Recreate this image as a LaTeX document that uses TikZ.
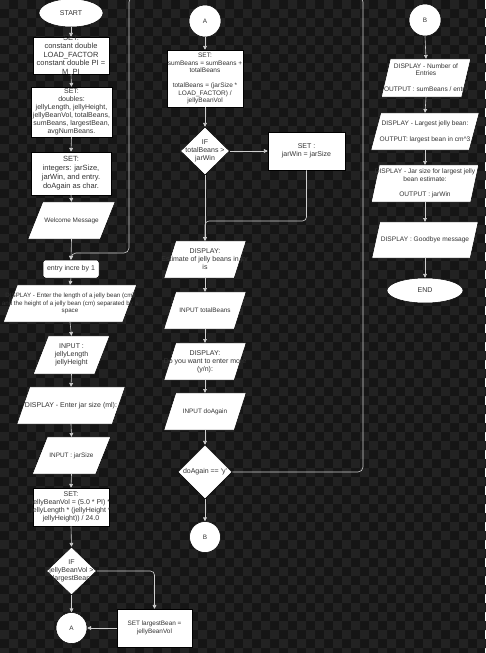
\documentclass[tikz,border=0pt]{standalone}
\usepackage{fontspec}
\setmainfont{Liberation Sans}
\usetikzlibrary{arrows.meta,shapes.geometric}

\definecolor{bgdark}{HTML}{151515}
\definecolor{bglight}{HTML}{222222}
\definecolor{linegray}{HTML}{CFCFCF}
\definecolor{txtgray}{HTML}{333333}

\pgfdeclarelayer{backdrop}
\pgfdeclarelayer{shapes}
\pgfsetlayers{backdrop,shapes,main}

\tikzset{
  txt/.style={font=\fontsize{7}{8}\selectfont, text=txtgray, align=center, inner sep=0pt},
  small/.style={font=\fontsize{6.4}{7.5}\selectfont},
  compact/.style={font=\fontsize{6.6}{7.8}\selectfont},
  large/.style={font=\fontsize{7.5}{8.4}\selectfont},
  outline/.style={draw=black, fill=white, line width=0.5pt},
  procbox/.style={outline, rectangle, inner sep=0pt},
  roundbox/.style={procbox, rounded corners=2.5pt},
  decision/.style={outline, diamond, inner sep=0pt},
  connector/.style={outline, circle, inner sep=0pt},
  terminal/.style={outline, ellipse, inner sep=0pt},
  iobody/.style={rectangle, draw=none, fill=none, inner sep=0pt},
  conn/.style={draw=linegray, line width=0.6pt, -{Triangle[length=3.8pt,width=3.8pt]}},
  loopline/.style={conn, rounded corners=5pt},
}

% parallelogram (input/output): name, cx, cy, mid width, height, skew, text style, text
\newcommand\ioshape[8]{%
  \node[iobody, minimum width=#4, minimum height=#5,
        label={[txt,#7]center:{#8}}] (#1) at (#2,#3) {};
  \begin{pgfonlayer}{shapes}
    \filldraw[outline] ([xshift=#6/2]#1.north west) -- ([xshift=#6/2]#1.north east)
      -- ([xshift=-#6/2]#1.south east) -- ([xshift=-#6/2]#1.south west) -- cycle;
  \end{pgfonlayer}
}

\begin{document}
\begin{tikzpicture}[x=1pt,y=-1pt]
\useasboundingbox (0,0) rectangle (485,653);
\clip (0,0) rectangle (485,653);

% checkered backdrop
\begin{pgfonlayer}{backdrop}
  \fill[bgdark] (0,0) rectangle (485,653);
  \foreach \j in {0,...,72}{
    \pgfmathtruncatemacro\off{mod(\j,2)*9}
    \fill[bglight] \foreach \k in {0,...,27}{ (\off+18*\k, 9*\j) rectangle ++(9,9) };
  }
\end{pgfonlayer}

% ---------- left column ----------
\node[terminal, minimum width=64, minimum height=28,
      label={[txt]center:{START}}] (start) at (71,13) {};
\node[procbox, minimum width=76, minimum height=37,
      label={[txt,large]center:{SET:\\constant double\\LOAD\_FACTOR\\constant double PI =\\M\_PI}}] (set1) at (71,55.5) {};
\node[procbox, minimum width=81, minimum height=50,
      label={[txt]center:{SET:\\doubles:\\jellyLength, jellyHeight,\\jellyBeanVol, totalBeans,\\sumBeans, largestBean,\\avgNumBeans.}}] (set2) at (71.5,112) {};
\node[procbox, minimum width=80, minimum height=43,
      label={[txt,font=\fontsize{7.5}{9}\selectfont]center:{SET:\\integers: jarSize,\\jarWin, and entry.\\doAgain as char.}}] (set3) at (71,173.5) {};
\ioshape{welcome}{71.5}{220.5}{72}{37}{15}{small}{Welcome Message}
\node[roundbox, minimum width=56, minimum height=18,
      label={[txt]center:{entry incre by 1}}] (entry) at (71,269) {};
\ioshape{disp1}{70}{303.5}{119}{37}{14}{font=\fontsize{6.2}{7.4}\selectfont}{DISPLAY - Enter the length of a jelly bean (cm)\\and the height of a jelly bean (cm) separated by a\\space}
\ioshape{in1}{71.5}{355}{61}{38}{15}{}{INPUT :\\jellyLength\\jellyHeight}
\ioshape{disp2}{71}{405.5}{95}{37}{13}{}{DISPLAY - Enter jar size (ml):}
\ioshape{in2}{71.5}{455.5}{63}{37}{15}{small}{INPUT : jarSize}
\node[procbox, minimum width=76, minimum height=38,
      label={[txt]center:{SET:\\jellyBeanVol = (5.0 * PI) *\\jellyLength * (jellyHeight *\\jellyHeight)) / 24.0}}] (set4) at (71,507) {};
\node[decision, minimum width=50, minimum height=48,
      label={[txt]center:{IF\\jellyBeanVol >\\largestBean}}] (if1) at (71.5,571) {};
\node[connector, minimum size=31,
      label={[txt,small]center:{A}}] (aleft) at (71.5,628) {};
\node[procbox, minimum width=75, minimum height=38,
      label={[txt,small]center:{SET largestBean =\\jellyBeanVol}}] (slb) at (154.5,628) {};

% ---------- middle column ----------
\node[connector, minimum size=32,
      label={[txt,small]center:{A}}] (amid) at (205,21) {};
\node[procbox, minimum width=76, minimum height=57,
      label={[txt,font=\fontsize{6.5}{7.5}\selectfont]center:{SET:\\sumBeans = sumBeans +\\totalBeans\\[7.5pt]totalBeans = (jarSize *\\LOAD\_FACTOR) /\\jellyBeanVol}}] (set5) at (205,78.5) {};
\node[decision, minimum width=49, minimum height=48,
      label={[txt]center:{IF\\totalBeans >\\jarWin}}] (if2) at (205,151) {};
\node[procbox, minimum width=77, minimum height=38,
      label={[txt]center:{SET :\\jarWin = jarSize}}] (sjw) at (306.5,151) {};
\ioshape{disp3}{205}{259.5}{70}{37}{12}{}{DISPLAY:\\Estimate of jelly beans in jar\\is}
\ioshape{in3}{205}{310.5}{70}{37}{12}{small}{INPUT totalBeans}
\ioshape{disp4}{205}{361.5}{70}{37}{12}{}{DISPLAY:\\Do you want to enter more\\(y/n):}
\ioshape{in4}{205}{411.5}{70}{37}{12}{small}{INPUT doAgain}
\node[decision, minimum width=54, minimum height=54,
      label={[txt]center:{doAgain == \textquotesingle y\textquotesingle}}] (doagain) at (205,472) {};
\node[connector, minimum size=31,
      label={[txt,small]center:{B}}] (bmid) at (205,537) {};

% ---------- right column ----------
\node[connector, minimum size=32,
      label={[txt,small]center:{B}}] (bright) at (425,20) {};
\ioshape{d5}{426}{78}{80}{38}{9}{compact}{DISPLAY - Number of\\Entries\\[7.8pt]OUTPUT : sumBeans / entry}
\ioshape{d6}{425}{131.5}{98}{37}{10}{compact}{DISPLAY - Largest jelly bean:\\[7.8pt]OUTPUT: largest bean in cm\textasciicircum 3}
\ioshape{d7}{425}{183.5}{99}{37}{8}{compact}{DISPLAY - Jar size for largest jelly\\bean estimate:\\[7.8pt]OUTPUT : jarWin}
\ioshape{d8}{425}{240}{98}{36}{8}{compact}{DISPLAY : Goodbye message}
\node[terminal, minimum width=76, minimum height=25,
      label={[txt]center:{END}}] (end) at (425,290.5) {};

% ---------- connectors ----------
\coordinate (loopTR) at (363,-3);
\coordinate (loopL) at (129,253);
\coordinate (join2) at (205,221);

\draw[conn] (start.south) -- (set1.north);
\draw[conn] (set1.south) -- (set2.north);
\draw[conn] (set2.south) -- (set3.north);
\draw[conn] (set3.south) -- (welcome.north);
\draw[conn] (welcome.south) -- (entry.north);
\draw[conn] (entry.south) -- (disp1.north);
\draw[conn] (disp1.south) -- (in1.north);
\draw[conn] (in1.south) -- (disp2.north);
\draw[conn] (disp2.south) -- (in2.north);
\draw[conn] (in2.south) -- (set4.north);
\draw[conn] (set4.south) -- (if1.north);
\draw[conn] (if1.south) -- (aleft.north);
\draw[conn, rounded corners=4pt] (if1.east) -| (slb.north);
\draw[conn] (slb.west) -- (aleft.east);

\draw[conn] (amid.south) -- (set5.north);
\draw[conn] (set5.south) -- (if2.north);
\draw[conn] (if2.east) -- (sjw.west);
\draw[conn] (if2.south) -- (disp3.north);
\draw[conn, rounded corners=4pt] (sjw.south) |- (join2) -- (disp3.north);
\draw[conn] (disp3.south) -- (in3.north);
\draw[conn] (in3.south) -- (disp4.north);
\draw[conn] (disp4.south) -- (in4.north);
\draw[conn] (in4.south) -- (doagain.north);
\draw[conn] (doagain.south) -- (bmid.north);
\draw[loopline] (doagain.east) -| (loopTR) -| (loopL) -| (entry.north);

\draw[conn] (bright.south) -- (d5.north);
\draw[conn] (d5.south) -- (d6.north);
\draw[conn] (d6.south) -- (d7.north);
\draw[conn] (d7.south) -- (d8.north);
\draw[conn] (d8.south) -- (end.north);
\end{tikzpicture}
\end{document}
